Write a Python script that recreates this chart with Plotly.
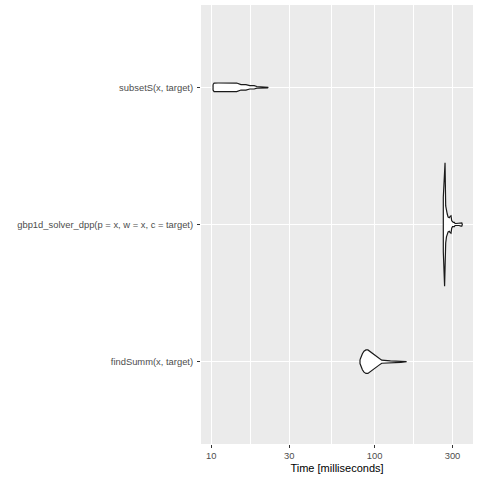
import numpy as np
import plotly.graph_objects as go

# Expressions (bottom to top)
expr_labels = [
    "findSumm(x, target)",
    "gbp1d_solver_dpp(p = x, w = x, c = target)",
    "subsetS(x, target)",
]

# Violin density profiles: time [ms] and relative density
findSumm_time = [81.4, 82.6, 84.2, 86.1, 88.5, 91.0, 96.4, 102.0, 106.0, 110.5, 125.0, 145.0, 157.0]
findSumm_dens = [0.03, 0.08, 0.13, 0.17, 0.19, 0.19, 0.145, 0.095, 0.06, 0.025, 0.014, 0.012, 0.0]

gbp1d_time = [263.5, 268.3, 270.0, 272.5, 275.5, 278.5, 282.0, 286.7, 290.0, 293.7, 296.6,
              300.0, 303.4, 308.0, 311.0, 315.0, 328.8, 338.0, 342.0, 344.5]
gbp1d_dens = [0.44, 1.0, 1.0, 0.30, 0.20, 0.17, 0.12, 0.11, 0.13, 0.14, 0.06,
              0.035, 0.035, 0.035, 0.016, 0.016, 0.016, 0.025, 0.025, 0.0]

subsetS_time = [10.25, 10.4, 11.0, 12.5, 14.3, 15.2, 16.3, 17.2, 18.3, 19.0, 22.1, 22.3]
subsetS_dens = [0.045, 0.069, 0.07, 0.07, 0.069, 0.044, 0.044, 0.027, 0.027, 0.013, 0.011, 0.0]

x_tick_vals = [10, 30, 100, 300]
x_tick_text = ["10", "30", "100", "300"]

profiles = [
    (findSumm_time, findSumm_dens),
    (gbp1d_time, gbp1d_dens),
    (subsetS_time, subsetS_dens),
]

max_dens = max(max(d) for _, d in profiles)
half_width = 0.45  # ggplot violin width 0.9

fig = go.Figure()
for i, (t, d) in enumerate(profiles):
    pos = i + 1
    t = np.array(t, dtype=float)
    w = np.array(d, dtype=float) / max_dens * half_width
    xs = np.concatenate([t, t[::-1], t[:1]])
    ys = np.concatenate([pos + w, (pos - w)[::-1], [pos + w[0]]])
    fig.add_trace(go.Scatter(
        x=xs, y=ys, mode="lines", fill="toself", fillcolor="white",
        line=dict(color="#1a1a1a", width=1.2), hoverinfo="skip", showlegend=False,
    ))

# minor breaks: geometric midpoints between major breaks (as ggplot does on log scale)
minor_vals = [float(np.sqrt(a * b)) for a, b in zip(x_tick_vals[:-1], x_tick_vals[1:])]

fig.update_layout(
    width=480, height=480,
    margin=dict(l=201, r=7, t=5, b=36),
    paper_bgcolor="white", plot_bgcolor="#EBEBEB",
    font=dict(family="Liberation Sans, Arial, sans-serif"),
    showlegend=False,
)
fig.update_xaxes(
    type="log", range=[0.9369, 2.6026], automargin=False,
    tickvals=x_tick_vals, ticktext=x_tick_text,
    ticks="outside", ticklen=3, tickwidth=1, tickcolor="#333333",
    tickfont=dict(size=9.4, color="#4D4D4D"),
    showgrid=True, gridcolor="white", gridwidth=1.1,
    minor=dict(tickvals=minor_vals, showgrid=True, gridcolor="white", gridwidth=0.5, ticks=""),
    zeroline=False, showline=False,
    title=dict(text="Time [milliseconds]", font=dict(size=11, color="black"), standoff=4),
)
fig.update_yaxes(
    range=[0.4, 3.6], automargin=False,
    tickvals=[1, 2, 3], ticktext=expr_labels,
    ticks="outside", ticklen=3, tickwidth=1, tickcolor="#333333",
    tickfont=dict(size=9.4, color="#4D4D4D"),
    ticklabelstandoff=2,
    showgrid=True, gridcolor="white", gridwidth=1.1,
    zeroline=False, showline=False,
)

fig.write_html(
    "out.html",
    config={"displayModeBar": False},
    post_script="document.body.style.margin='0px';document.body.style.overflow='hidden';",
)
